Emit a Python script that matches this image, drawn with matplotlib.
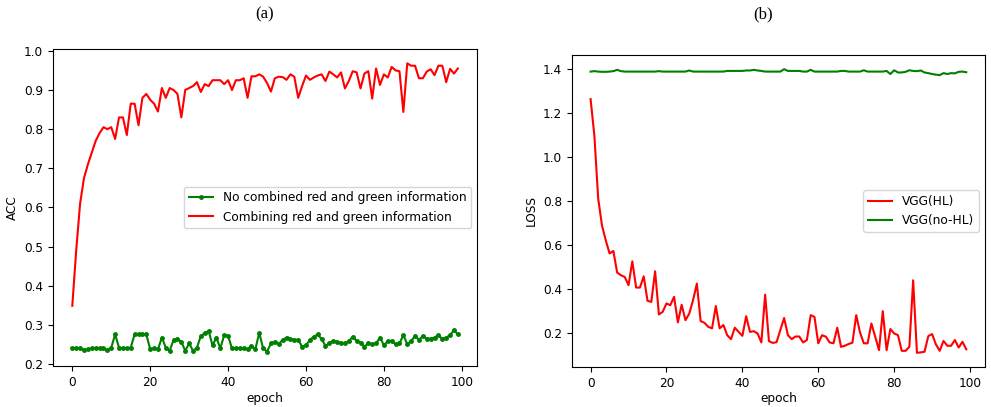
import matplotlib
matplotlib.use("Agg")
import matplotlib.pyplot as plt
import numpy as np

epochs = np.arange(100)

# (a) accuracy curves
acc_no_combined = [
    0.240, 0.241, 0.240, 0.236, 0.238, 0.240, 0.240, 0.240, 0.240, 0.236,
    0.242, 0.276, 0.242, 0.241, 0.240, 0.242, 0.276, 0.276, 0.276, 0.276,
    0.238, 0.240, 0.238, 0.268, 0.242, 0.234, 0.262, 0.265, 0.257, 0.234,
    0.253, 0.234, 0.242, 0.272, 0.279, 0.285, 0.248, 0.268, 0.240, 0.274,
    0.272, 0.240, 0.240, 0.240, 0.240, 0.238, 0.247, 0.238, 0.280, 0.240,
    0.232, 0.253, 0.257, 0.251, 0.262, 0.268, 0.264, 0.262, 0.262, 0.245,
    0.248, 0.262, 0.270, 0.276, 0.264, 0.247, 0.253, 0.259, 0.257, 0.253,
    0.253, 0.259, 0.270, 0.259, 0.255, 0.245, 0.253, 0.251, 0.253, 0.268,
    0.248, 0.259, 0.259, 0.251, 0.253, 0.274, 0.251, 0.259, 0.272, 0.262,
    0.272, 0.265, 0.265, 0.268, 0.274, 0.264, 0.268, 0.274, 0.287, 0.276,
]
acc_combined = [
    0.349, 0.490, 0.610, 0.675, 0.710, 0.740, 0.770, 0.790, 0.805, 0.800,
    0.805, 0.775, 0.830, 0.830, 0.785, 0.865, 0.865, 0.810, 0.880, 0.890,
    0.875, 0.865, 0.845, 0.905, 0.880, 0.905, 0.900, 0.890, 0.830, 0.900,
    0.905, 0.910, 0.920, 0.895, 0.915, 0.910, 0.925, 0.925, 0.925, 0.915,
    0.925, 0.900, 0.925, 0.925, 0.930, 0.880, 0.935, 0.935, 0.940, 0.934,
    0.918, 0.896, 0.930, 0.934, 0.933, 0.926, 0.940, 0.934, 0.880, 0.910,
    0.937, 0.926, 0.932, 0.937, 0.940, 0.923, 0.947, 0.940, 0.932, 0.945,
    0.904, 0.923, 0.948, 0.945, 0.904, 0.942, 0.948, 0.878, 0.955, 0.913,
    0.940, 0.932, 0.959, 0.950, 0.948, 0.844, 0.968, 0.962, 0.962, 0.930,
    0.930, 0.947, 0.953, 0.938, 0.962, 0.962, 0.920, 0.954, 0.942, 0.955,
]

# (b) loss curves
loss_hl = [
    1.263, 1.097, 0.812, 0.690, 0.622, 0.563, 0.574, 0.476, 0.464, 0.456,
    0.419, 0.527, 0.408, 0.408, 0.459, 0.348, 0.343, 0.482, 0.286, 0.298,
    0.336, 0.328, 0.366, 0.250, 0.330, 0.260, 0.290, 0.351, 0.426, 0.256,
    0.248, 0.230, 0.223, 0.324, 0.223, 0.238, 0.192, 0.174, 0.226, 0.207,
    0.189, 0.278, 0.207, 0.210, 0.200, 0.159, 0.376, 0.165, 0.157, 0.160,
    0.215, 0.270, 0.192, 0.174, 0.186, 0.186, 0.159, 0.170, 0.283, 0.275,
    0.155, 0.192, 0.185, 0.159, 0.155, 0.226, 0.139, 0.144, 0.152, 0.158,
    0.283, 0.204, 0.155, 0.155, 0.245, 0.185, 0.124, 0.301, 0.124, 0.220,
    0.200, 0.192, 0.121, 0.121, 0.139, 0.441, 0.112, 0.114, 0.117, 0.188,
    0.197, 0.150, 0.121, 0.166, 0.144, 0.144, 0.170, 0.136, 0.162, 0.128,
]
loss_no_hl = [
    1.388, 1.390, 1.388, 1.387, 1.387, 1.388, 1.390, 1.396, 1.390, 1.388,
    1.388, 1.388, 1.388, 1.388, 1.388, 1.388, 1.388, 1.388, 1.390, 1.388,
    1.388, 1.388, 1.388, 1.388, 1.388, 1.388, 1.393, 1.388, 1.388, 1.388,
    1.388, 1.388, 1.388, 1.388, 1.388, 1.388, 1.391, 1.391, 1.391, 1.391,
    1.391, 1.393, 1.393, 1.396, 1.393, 1.391, 1.388, 1.388, 1.388, 1.388,
    1.388, 1.399, 1.391, 1.391, 1.391, 1.391, 1.388, 1.388, 1.396, 1.388,
    1.388, 1.388, 1.388, 1.388, 1.388, 1.388, 1.391, 1.391, 1.388, 1.388,
    1.388, 1.388, 1.394, 1.388, 1.388, 1.388, 1.388, 1.388, 1.391, 1.377,
    1.394, 1.384, 1.384, 1.387, 1.394, 1.391, 1.390, 1.393, 1.384, 1.381,
    1.377, 1.374, 1.372, 1.381, 1.377, 1.381, 1.380, 1.387, 1.388, 1.385,
]

plt.rcParams['font.size'] = 8.7

fig = plt.figure(figsize=(9.91, 4.07), dpi=100)

ax1 = fig.add_axes([0.0535, 0.1007, 0.428, 0.779])
ax1.plot(epochs, acc_no_combined, color='green', marker='.', markersize=5,
         label='No combined red and green information')
ax1.plot(epochs, acc_combined, color='red', label='Combining red and green information')
ax1.set_xlabel('epoch', labelpad=2)
ax1.set_ylabel('ACC')
ax1.legend(loc='center right')

ax2 = fig.add_axes([0.577, 0.0983, 0.417, 0.7666])
ax2.plot(epochs, loss_hl, color='red', label='VGG(HL)')
ax2.plot(epochs, loss_no_hl, color='green', label='VGG(no-HL)')
ax2.set_xlabel('epoch', labelpad=2)
ax2.set_ylabel('LOSS')
ax2.legend(loc='center right')

fig.text(265 / 991, 1 - 14 / 407, '(a)', ha='center', va='center',
         fontsize=12, family='Liberation Serif')
fig.text(763 / 991, 1 - 14 / 407, '(b)', ha='center', va='center',
         fontsize=12, family='Liberation Serif')

fig.savefig('out.png', dpi=100)
